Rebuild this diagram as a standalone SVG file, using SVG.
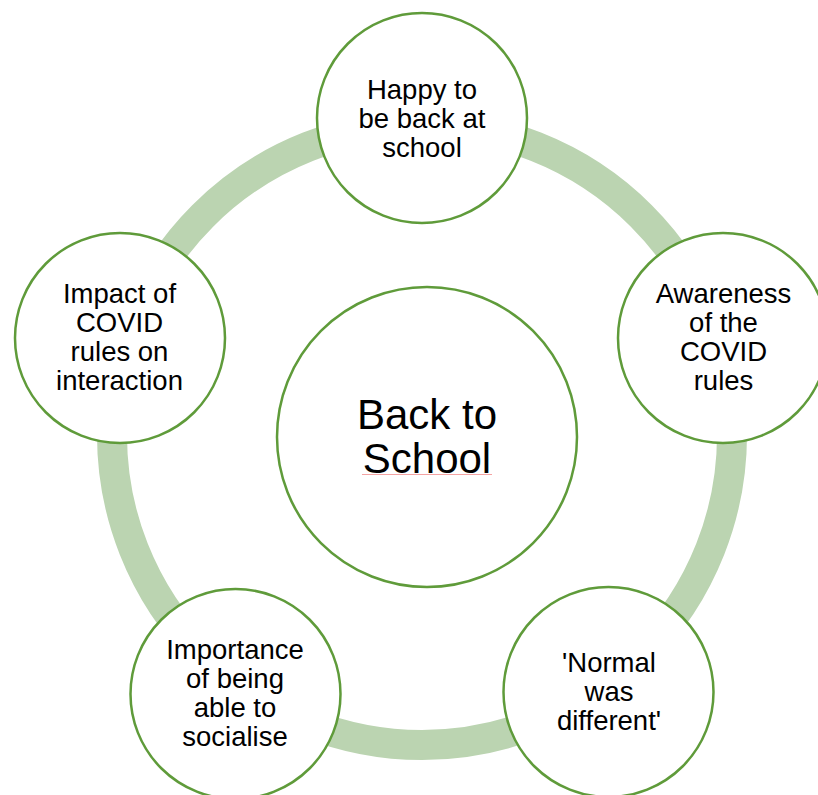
<svg xmlns="http://www.w3.org/2000/svg" width="818" height="795" viewBox="0 0 818 795">
<style>
.node{fill:#ffffff;stroke:#5f9b3a;stroke-width:2.5}
.lbl{font-family:"Liberation Sans",Arial,sans-serif;font-size:27.5px;fill:#000000;text-anchor:middle}
.big{font-size:42px}
</style>
<rect width="818" height="795" fill="#ffffff"/>
<g id="connectors">
<circle cx="422" cy="435" r="310" fill="none" stroke="#bbd4b1" stroke-width="30"/>
</g>
<g id="center">
<circle class="node" cx="427" cy="437" r="150"/>
<text class="lbl big" x="427" y="429">Back to</text>
<text class="lbl big" x="427" y="473">School</text>
<line x1="362" y1="474.5" x2="492" y2="474.5" stroke="#f4a3a3" stroke-width="1"/>
</g>
<g id="n1">
<circle class="node" cx="422" cy="118" r="105"/>
<text class="lbl" x="422" y="99.3">Happy to</text>
<text class="lbl" x="422" y="128.2">be back at</text>
<text class="lbl" x="422" y="157">school</text>
</g>
<g id="n2">
<circle class="node" cx="723" cy="338" r="105"/>
<text class="lbl" x="723.5" y="303.3">Awareness</text>
<text class="lbl" x="723.5" y="332">of the</text>
<text class="lbl" x="723.5" y="360.8">COVID</text>
<text class="lbl" x="723.5" y="389.6">rules</text>
</g>
<g id="n3">
<circle class="node" cx="608.5" cy="692" r="105"/>
<text class="lbl" x="609" y="672">'Normal</text>
<text class="lbl" x="609" y="700.8">was</text>
<text class="lbl" x="609" y="729.6">different'</text>
</g>
<g id="n4">
<circle class="node" cx="235.5" cy="694" r="105"/>
<text class="lbl" x="235" y="659.3">Importance</text>
<text class="lbl" x="235" y="688">of being</text>
<text class="lbl" x="235" y="716.8">able to</text>
<text class="lbl" x="235" y="745.6">socialise</text>
</g>
<g id="n5">
<circle class="node" cx="120" cy="338" r="105"/>
<text class="lbl" x="119.5" y="303.3">Impact of</text>
<text class="lbl" x="119.5" y="332">COVID</text>
<text class="lbl" x="119.5" y="360.8">rules on</text>
<text class="lbl" x="119.5" y="389.6">interaction</text>
</g>
</svg>
